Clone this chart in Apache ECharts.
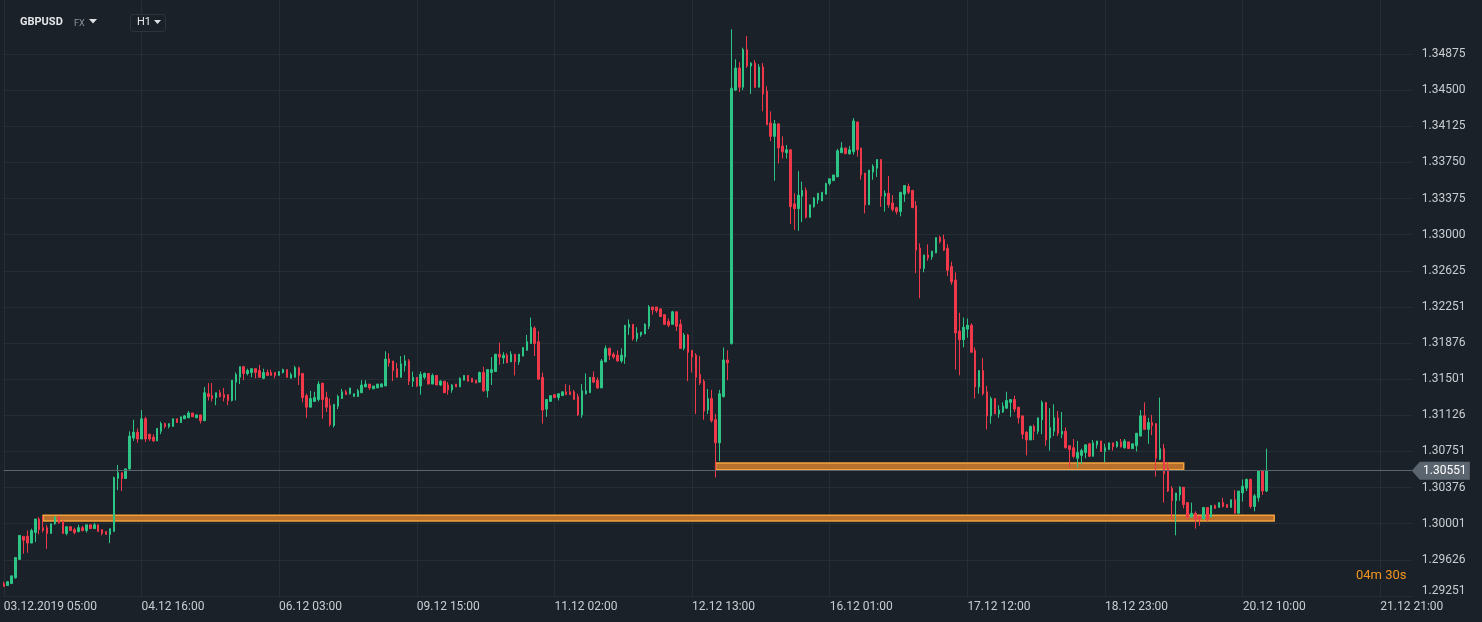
<!DOCTYPE html>
<html><head><meta charset="utf-8">
<script src="https://cdn.jsdelivr.net/npm/echarts@6/dist/echarts.min.js"></script>
<style>html,body{margin:0;padding:0;background:#1b2128;}#c{width:1482px;height:622px;}</style>
</head><body><div id="c"></div><script>
// ---------------- DATA ----------------
const symbolName = 'GBPUSD';
const timeframe = 'H1';
const countdownText = '04m 30s';
const firstBarTime = '2019-12-03T05:00:00Z';
const weekendGaps = [['2019-12-06T22:00:00Z', '2019-12-08T23:00:00Z'], ['2019-12-13T22:00:00Z', '2019-12-15T23:00:00Z']];
const categoryCount = 359; // data bars + empty future slots on the axis
const yTickLabels = ['1.29251','1.29626','1.30001','1.30376','1.30751','1.31126','1.31501','1.31876','1.32251','1.32625','1.33000','1.33375','1.33750','1.34125','1.34500','1.34875'];
const yMin = 1.29251, yMax = 1.35435;
const lastPrice = 1.30551;
// support zones: [startBar, endBar, lowPrice, highPrice]
const zoneA = [10, 323, 1.3003, 1.3009];
const zoneB = [181, 300, 1.3056, 1.3063];

const opens = [
1.2938,1.2936,1.2938,1.2944,1.2963,1.2987,1.2987,1.2980,1.2991,1.3005,
1.2996,1.2996,1.2990,1.3000,1.3007,1.3003,1.2990,1.2997,1.2994,1.2992,
1.2996,1.2993,1.2999,1.2995,1.2999,1.2994,1.2992,1.2989,1.2992,1.3047,
1.3053,1.3047,1.3057,1.3089,1.3095,1.3088,1.3109,1.3093,1.3090,1.3086,
1.3096,1.3104,1.3101,1.3101,1.3109,1.3105,1.3109,1.3110,1.3115,1.3110,
1.3113,1.3107,1.3135,1.3133,1.3131,1.3136,1.3134,1.3134,1.3128,1.3147,
1.3152,1.3163,1.3156,1.3157,1.3161,1.3159,1.3151,1.3157,1.3157,1.3157,
1.3154,1.3157,1.3160,1.3151,1.3152,1.3162,1.3156,1.3133,1.3121,1.3127,
1.3129,1.3146,1.3131,1.3123,1.3102,1.3122,1.3130,1.3137,1.3135,1.3132,
1.3132,1.3136,1.3142,1.3145,1.3140,1.3141,1.3142,1.3143,1.3171,1.3169,
1.3161,1.3152,1.3164,1.3169,1.3148,1.3152,1.3143,1.3152,1.3156,1.3145,
1.3154,1.3144,1.3148,1.3144,1.3139,1.3145,1.3142,1.3149,1.3154,1.3151,
1.3149,1.3147,1.3157,1.3138,1.3157,1.3158,1.3176,1.3172,1.3175,1.3168,
1.3176,1.3168,1.3174,1.3180,1.3187,1.3203,1.3189,1.3152,1.3119,1.3127,
1.3134,1.3131,1.3133,1.3137,1.3137,1.3137,1.3132,1.3113,1.3135,1.3136,
1.3152,1.3149,1.3141,1.3168,1.3182,1.3176,1.3175,1.3169,1.3173,1.3204,
1.3207,1.3192,1.3196,1.3197,1.3205,1.3225,1.3225,1.3223,1.3217,1.3210,
1.3207,1.3220,1.3207,1.3182,1.3196,1.3180,1.3175,1.3155,1.3148,1.3118,
1.3130,1.3108,1.3084,1.3132,1.3170,1.3187,1.3450,1.3473,1.3453,1.3492,
1.3475,1.3478,1.3453,1.3474,1.3449,1.3416,1.3402,1.3415,1.3392,1.3385,
1.3388,1.3332,1.3327,1.3340,1.3346,1.3318,1.3329,1.3336,1.3335,1.3342,
1.3353,1.3356,1.3360,1.3385,1.3390,1.3384,1.3386,1.3417,1.3390,1.3364,
1.3331,1.3365,1.3369,1.3378,1.3340,1.3343,1.3333,1.3328,1.3324,1.3342,
1.3350,1.3346,1.3330,1.3286,1.3265,1.3279,1.3277,1.3281,1.3297,1.3295,
1.3286,1.3267,1.3253,1.3200,1.3191,1.3202,1.3206,1.3180,1.3142,1.3159,
1.3137,1.3112,1.3130,1.3114,1.3116,1.3120,1.3126,1.3129,1.3121,1.3112,
1.3095,1.3087,1.3101,1.3096,1.3108,1.3126,1.3089,1.3096,1.3110,1.3093,
1.3096,1.3081,1.3079,1.3068,1.3071,1.3074,1.3083,1.3070,1.3082,1.3086,
1.3075,1.3077,1.3084,1.3080,1.3085,1.3079,1.3085,1.3078,1.3081,1.3091,
1.3112,1.3098,1.3105,1.3104,1.3067,1.3078,1.3058,1.3037,1.3024,1.3030,
1.3038,1.3022,1.3007,1.3011,1.3008,1.3005,1.3017,1.3007,1.3019,1.3017,
1.3022,1.3020,1.3017,1.3025,1.3011,1.3032,1.3037,1.3046,1.3018,1.3027,
1.3055,1.3034];

const closes = [
1.2935,1.2940,1.2946,1.2965,1.2988,1.2983,1.2980,1.2993,1.3005,1.2994,
1.2993,1.2990,1.3000,1.3007,1.3001,1.2990,1.2997,1.2993,1.2991,1.2996,
1.2993,1.2999,1.2995,1.2999,1.2992,1.2990,1.2989,1.2995,1.3048,1.3053,
1.3047,1.3057,1.3091,1.3095,1.3088,1.3109,1.3088,1.3088,1.3086,1.3099,
1.3104,1.3101,1.3104,1.3109,1.3105,1.3111,1.3112,1.3115,1.3111,1.3113,
1.3107,1.3136,1.3132,1.3130,1.3136,1.3132,1.3131,1.3128,1.3149,1.3155,
1.3163,1.3156,1.3159,1.3161,1.3157,1.3152,1.3157,1.3154,1.3154,1.3154,
1.3158,1.3160,1.3152,1.3155,1.3162,1.3154,1.3131,1.3121,1.3130,1.3131,
1.3145,1.3129,1.3121,1.3103,1.3124,1.3132,1.3137,1.3134,1.3141,1.3135,
1.3138,1.3144,1.3145,1.3141,1.3143,1.3145,1.3145,1.3171,1.3167,1.3159,
1.3152,1.3166,1.3169,1.3148,1.3152,1.3143,1.3155,1.3156,1.3145,1.3154,
1.3144,1.3148,1.3136,1.3139,1.3144,1.3142,1.3151,1.3154,1.3148,1.3147,
1.3146,1.3157,1.3138,1.3160,1.3160,1.3176,1.3173,1.3175,1.3167,1.3176,
1.3168,1.3176,1.3183,1.3189,1.3204,1.3187,1.3150,1.3118,1.3129,1.3133,
1.3131,1.3135,1.3137,1.3134,1.3134,1.3129,1.3113,1.3138,1.3138,1.3152,
1.3147,1.3141,1.3169,1.3182,1.3175,1.3173,1.3169,1.3175,1.3206,1.3207,
1.3192,1.3198,1.3199,1.3207,1.3225,1.3222,1.3221,1.3215,1.3207,1.3206,
1.3220,1.3205,1.3182,1.3196,1.3178,1.3173,1.3152,1.3146,1.3117,1.3130,
1.3107,1.3084,1.3135,1.3170,1.3167,1.3452,1.3473,1.3453,1.3492,1.3475,
1.3478,1.3453,1.3474,1.3446,1.3414,1.3402,1.3415,1.3390,1.3386,1.3388,
1.3329,1.3327,1.3341,1.3346,1.3318,1.3331,1.3338,1.3343,1.3344,1.3353,
1.3358,1.3362,1.3387,1.3390,1.3384,1.3388,1.3418,1.3388,1.3362,1.3331,
1.3367,1.3371,1.3378,1.3340,1.3343,1.3331,1.3326,1.3324,1.3344,1.3351,
1.3344,1.3328,1.3284,1.3265,1.3279,1.3276,1.3283,1.3297,1.3293,1.3284,
1.3263,1.3251,1.3198,1.3191,1.3204,1.3206,1.3178,1.3142,1.3159,1.3135,
1.3112,1.3130,1.3114,1.3118,1.3122,1.3128,1.3129,1.3119,1.3110,1.3093,
1.3087,1.3101,1.3096,1.3110,1.3126,1.3087,1.3100,1.3110,1.3094,1.3096,
1.3079,1.3077,1.3070,1.3074,1.3076,1.3082,1.3070,1.3084,1.3086,1.3075,
1.3079,1.3084,1.3080,1.3085,1.3080,1.3086,1.3078,1.3083,1.3094,1.3112,
1.3098,1.3105,1.3102,1.3068,1.3078,1.3052,1.3034,1.3024,1.3032,1.3038,
1.3020,1.3007,1.3011,1.3005,1.3005,1.3017,1.3005,1.3019,1.3016,1.3022,
1.3018,1.3017,1.3025,1.3011,1.3034,1.3039,1.3046,1.3018,1.3029,1.3055,
1.3034,1.30551];

const lows = [
1.2935,1.2936,1.2938,1.2943,1.2963,1.2969,1.2970,1.2980,1.2981,1.2989,
1.2991,1.2974,1.2990,1.2999,1.3000,1.2990,1.2988,1.2993,1.2989,1.2991,
1.2992,1.2991,1.2995,1.2995,1.2992,1.2988,1.2989,1.2980,1.2992,1.3035,
1.3034,1.3047,1.3056,1.3086,1.3084,1.3088,1.3085,1.3086,1.3085,1.3086,
1.3093,1.3099,1.3099,1.3101,1.3105,1.3105,1.3109,1.3110,1.3111,1.3110,
1.3104,1.3107,1.3128,1.3127,1.3123,1.3131,1.3127,1.3123,1.3127,1.3128,
1.3145,1.3149,1.3154,1.3152,1.3151,1.3152,1.3150,1.3154,1.3154,1.3151,
1.3154,1.3156,1.3152,1.3151,1.3152,1.3144,1.3126,1.3110,1.3121,1.3127,
1.3127,1.3109,1.3116,1.3101,1.3100,1.3119,1.3130,1.3134,1.3134,1.3132,
1.3132,1.3136,1.3142,1.3139,1.3140,1.3141,1.3142,1.3143,1.3163,1.3148,
1.3152,1.3152,1.3158,1.3144,1.3142,1.3142,1.3134,1.3150,1.3145,1.3145,
1.3144,1.3143,1.3136,1.3134,1.3136,1.3142,1.3142,1.3149,1.3148,1.3147,
1.3146,1.3147,1.3137,1.3131,1.3144,1.3158,1.3165,1.3166,1.3167,1.3168,
1.3154,1.3165,1.3174,1.3180,1.3187,1.3174,1.3150,1.3104,1.3111,1.3127,
1.3131,1.3128,1.3133,1.3134,1.3134,1.3129,1.3112,1.3110,1.3134,1.3136,
1.3146,1.3140,1.3141,1.3168,1.3170,1.3171,1.3168,1.3167,1.3166,1.3196,
1.3190,1.3189,1.3194,1.3197,1.3202,1.3217,1.3219,1.3215,1.3207,1.3204,
1.3207,1.3200,1.3182,1.3180,1.3148,1.3157,1.3114,1.3144,1.3108,1.3114,
1.3105,1.3048,1.3065,1.3131,1.3149,1.3186,1.3449,1.3448,1.3450,1.3473,
1.3446,1.3452,1.3453,1.3428,1.3414,1.3397,1.3356,1.3374,1.3379,1.3379,
1.3311,1.3305,1.3304,1.3313,1.3317,1.3318,1.3328,1.3332,1.3335,1.3342,
1.3351,1.3356,1.3360,1.3385,1.3384,1.3383,1.3383,1.3381,1.3357,1.3322,
1.3331,1.3357,1.3360,1.3329,1.3324,1.3328,1.3324,1.3321,1.3319,1.3334,
1.3342,1.3328,1.3260,1.3234,1.3261,1.3273,1.3274,1.3281,1.3291,1.3283,
1.3257,1.3248,1.3160,1.3154,1.3183,1.3193,1.3178,1.3130,1.3135,1.3133,
1.3098,1.3104,1.3114,1.3110,1.3115,1.3119,1.3111,1.3116,1.3104,1.3088,
1.3071,1.3087,1.3087,1.3093,1.3093,1.3081,1.3076,1.3091,1.3091,1.3089,
1.3078,1.3058,1.3068,1.3058,1.3062,1.3068,1.3070,1.3070,1.3078,1.3075,
1.3064,1.3077,1.3076,1.3079,1.3079,1.3078,1.3078,1.3078,1.3075,1.3091,
1.3098,1.3083,1.3092,1.3049,1.3066,1.3022,1.3033,1.3005,1.2988,1.3024,
1.3016,1.3004,1.3007,1.2995,1.2998,1.3005,1.3003,1.3007,1.3016,1.3017,
1.3017,1.3017,1.3017,1.3011,1.3010,1.3023,1.3034,1.3016,1.3013,1.3023,
1.3030,1.3033];

const highs = [
1.2940,1.2940,1.2946,1.2965,1.2988,1.2987,1.2993,1.2995,1.3005,1.3007,
1.3008,1.2999,1.3000,1.3008,1.3008,1.3003,1.2997,1.2997,1.2996,1.2999,
1.2998,1.2999,1.2999,1.3001,1.2999,1.2994,1.2992,1.2995,1.3049,1.3061,
1.3053,1.3057,1.3096,1.3108,1.3099,1.3118,1.3111,1.3093,1.3093,1.3099,
1.3106,1.3105,1.3104,1.3109,1.3109,1.3111,1.3113,1.3117,1.3115,1.3113,
1.3113,1.3142,1.3146,1.3146,1.3136,1.3139,1.3141,1.3134,1.3149,1.3157,
1.3163,1.3164,1.3161,1.3161,1.3161,1.3165,1.3161,1.3160,1.3160,1.3157,
1.3158,1.3161,1.3160,1.3157,1.3164,1.3163,1.3156,1.3135,1.3138,1.3137,
1.3148,1.3146,1.3137,1.3130,1.3124,1.3134,1.3140,1.3139,1.3141,1.3135,
1.3140,1.3149,1.3149,1.3145,1.3143,1.3145,1.3146,1.3179,1.3177,1.3169,
1.3167,1.3174,1.3175,1.3171,1.3158,1.3152,1.3158,1.3157,1.3156,1.3156,
1.3154,1.3149,1.3148,1.3147,1.3145,1.3145,1.3152,1.3154,1.3154,1.3151,
1.3149,1.3158,1.3163,1.3160,1.3173,1.3176,1.3188,1.3178,1.3177,1.3179,
1.3176,1.3176,1.3183,1.3196,1.3214,1.3205,1.3200,1.3157,1.3129,1.3133,
1.3134,1.3135,1.3137,1.3145,1.3144,1.3139,1.3135,1.3145,1.3156,1.3152,
1.3158,1.3152,1.3171,1.3185,1.3183,1.3178,1.3180,1.3182,1.3206,1.3212,
1.3207,1.3204,1.3199,1.3208,1.3227,1.3225,1.3225,1.3223,1.3217,1.3213,
1.3221,1.3220,1.3212,1.3198,1.3197,1.3180,1.3177,1.3174,1.3150,1.3140,
1.3139,1.3114,1.3139,1.3183,1.3180,1.3513,1.3482,1.3479,1.3494,1.3506,
1.3479,1.3481,1.3477,1.3478,1.3454,1.3428,1.3419,1.3415,1.3402,1.3393,
1.3389,1.3343,1.3366,1.3355,1.3349,1.3331,1.3339,1.3343,1.3344,1.3354,
1.3358,1.3362,1.3389,1.3396,1.3390,1.3392,1.3421,1.3417,1.3390,1.3364,
1.3367,1.3373,1.3378,1.3378,1.3346,1.3361,1.3341,1.3329,1.3344,1.3351,
1.3353,1.3346,1.3335,1.3291,1.3279,1.3290,1.3283,1.3297,1.3299,1.3300,
1.3290,1.3272,1.3261,1.3219,1.3214,1.3213,1.3208,1.3183,1.3159,1.3172,
1.3143,1.3132,1.3130,1.3123,1.3126,1.3137,1.3129,1.3133,1.3121,1.3112,
1.3096,1.3102,1.3103,1.3110,1.3128,1.3126,1.3120,1.3124,1.3117,1.3116,
1.3100,1.3081,1.3088,1.3086,1.3078,1.3082,1.3084,1.3087,1.3086,1.3086,
1.3083,1.3084,1.3084,1.3086,1.3088,1.3088,1.3085,1.3083,1.3094,1.3118,
1.3126,1.3110,1.3113,1.3104,1.3131,1.3083,1.3064,1.3039,1.3032,1.3039,
1.3038,1.3022,1.3022,1.3013,1.3008,1.3017,1.3017,1.3019,1.3020,1.3022,
1.3027,1.3020,1.3025,1.3035,1.3034,1.3046,1.3047,1.3047,1.3031,1.3055,
1.3056,1.3078];

// ---------------- BUILD ----------------
const pad = n => String(n).padStart(2, '0');
const gaps = weekendGaps.map(g => [Date.parse(g[0]), Date.parse(g[1])]);
const categories = [];
let t = Date.parse(firstBarTime);
while (categories.length < categoryCount) {
  for (const g of gaps) { if (t >= g[0] && t < g[1]) t = g[1]; }
  const d = new Date(t);
  categories.push(pad(d.getUTCDate()) + '.' + pad(d.getUTCMonth() + 1) + '.' + d.getUTCFullYear() + ' ' + pad(d.getUTCHours()) + ':' + pad(d.getUTCMinutes()));
  t += 3600000;
}
const candles = opens.map((o, i) => [o, closes[i], lows[i], highs[i]]);
const yTickValues = yTickLabels.map(Number);

const UP = '#2cc585', DOWN = '#f0384b';
const GRID = '#252d35';
const TXT = '#c9ced3';
const FONT = 'Roboto, "Noto Sans", sans-serif';

const chart = echarts.init(document.getElementById('c'), null, {renderer: 'canvas'});
chart.setOption({
  animation: false,
  backgroundColor: '#1b2128',
  grid: {left: 3.8, right: 70.2, top: 0, bottom: 26, containLabel: false},
  xAxis: {
    type: 'category', data: categories, boundaryGap: false,
    axisLine: {show: false}, axisTick: {show: false},
    axisLabel: {interval: 34, align: 'left', color: TXT, fontSize: 12, fontFamily: FONT, margin: 5,
      formatter: (v, i) => i === 0 ? v : v.slice(0, 5) + v.slice(10)},
    splitLine: {show: true, interval: 34, lineStyle: {color: GRID, width: 1}}
  },
  yAxis: {
    type: 'value', position: 'right', min: yMin, max: yMax, scale: true,
    axisLine: {show: false},
    axisTick: {show: false, customValues: yTickValues},
    axisLabel: {customValues: yTickValues, color: TXT, fontSize: 12, fontFamily: FONT, margin: 10,
      formatter: v => { const s = v.toFixed(5); return v === yTickValues[0] ? '{lo|' + s + '}' : s; },
      rich: {lo: {color: TXT, fontSize: 12, fontFamily: FONT, padding: [0, 0, 10, 0]}}},
    splitLine: {show: true, lineStyle: {color: GRID, width: 1}}
  },
  graphic: [
    {type: 'text', z: 100, left: 20, top: 17, style: {text: symbolName, fill: '#e3e6e9', font: 'bold 11px ' + FONT}},
    {type: 'text', z: 100, left: 74, top: 19, style: {text: 'FX', fill: '#8e98a2', font: '9px ' + FONT}},
    {type: 'polygon', z: 100, shape: {points: [[89, 19], [97, 19], [93, 23.5]]}, style: {fill: '#dde1e5'}},
    {type: 'rect', z: 100, shape: {x: 130.5, y: 14.5, width: 35, height: 17, r: 3}, style: {fill: '#1b2128', stroke: '#2d3640', lineWidth: 1}},
    {type: 'text', z: 101, left: 137, top: 17, style: {text: timeframe, fill: '#e3e6e9', font: '11px ' + FONT}},
    {type: 'polygon', z: 101, shape: {points: [[154, 20], [161, 20], [157.5, 24]]}, style: {fill: '#dde1e5'}},
    {type: 'text', z: 100, left: 1356, top: 569, style: {text: countdownText, fill: '#f3961f', font: '13px ' + FONT, backgroundColor: '#1b2128'}}
  ],
  series: [{
    type: 'candlestick',
    data: candles,
    barWidth: 2,
    clip: false,
    itemStyle: {color: UP, color0: DOWN, borderColor: UP, borderColor0: DOWN, borderWidth: 1},
    markArea: {
      silent: true,
      itemStyle: {color: 'rgba(206,124,46,0.88)', borderColor: '#f5a23c', borderWidth: 1.5},
      data: [
        [{coord: [zoneA[0], zoneA[2]]}, {coord: [zoneA[1], zoneA[3]]}],
        [{coord: [zoneB[0], zoneB[2]]}, {coord: [zoneB[1], zoneB[3]]}]
      ]
    },
    markLine: {
      silent: true, symbol: ['none', 'none'], animation: false,
      lineStyle: {color: '#5a646e', width: 1, type: 'solid'},
      label: {show: false},
      data: [[{coord: [0, lastPrice]}, {coord: [categoryCount - 1, lastPrice]}]]
    },
    markPoint: {
      silent: true, animation: false,
      symbol: 'path://M0,9L8,0L58,0L58,18L8,18Z', symbolSize: [58, 18], symbolOffset: [29, 0],
      itemStyle: {color: '#5b6570'},
      label: {show: true, position: 'inside', offset: [4, 0], color: '#ffffff', fontSize: 12, fontFamily: FONT,
        formatter: () => lastPrice.toFixed(5)},
      data: [{coord: [categoryCount - 1, lastPrice]}]
    }
  }]
});
</script></body></html>
